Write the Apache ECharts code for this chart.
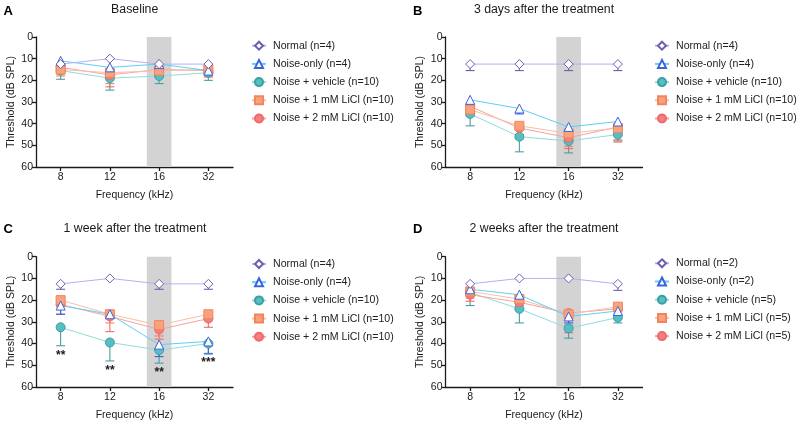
<!DOCTYPE html>
<html><head><meta charset="utf-8">
<script src="https://cdn.jsdelivr.net/npm/echarts@6/dist/echarts.min.js"></script>
<style>html,body{margin:0;padding:0;background:#fff}#c{width:800px;height:425px}</style>
</head><body><div id="c"></div>
<script>
const categories = ['8', '12', '16', '32'];
const shadedFreq = '16';
const groups = ['Normal', 'Noise-only', 'Noise + vehicle', 'Noise + 1 mM LiCl', 'Noise + 2 mM LiCl'];
const nABC = [4, 4, 10, 10, 10];
const nD = [2, 2, 5, 5, 5];
const panelTitles = ['Baseline', '3 days after the treatment', '1 week after the treatment', '2 weeks after the treatment'];
const panelLetters = ['A', 'B', 'C', 'D'];

// Panel A: Baseline (mean, SD)
const A_normal = [12.5, 10, 12.5, 12.5],   A_normal_err = [2, 0, 2, 2];
const A_noise = [11, 14, 12.5, 15.5],      A_noise_err = [2, 2, 2, 2];
const A_vehicle = [15.5, 19, 18, 16.5],    A_vehicle_err = [4, 5.5, 3.5, 3.5];
const A_licl1 = [15, 16.5, 15.5, 15],      A_licl1_err = [3, 5, 3, 3];
const A_licl2 = [14, 17.5, 15, 15.5],      A_licl2_err = [3, 5.5, 3, 3];
// Panel B: 3 days
const B_normal = [12.5, 12.5, 12.5, 12.5], B_normal_err = [3, 3, 3, 3];
const B_noise = [29, 33, 41.5, 39],        B_noise_err = [2, 2.5, 2, 4];
const B_vehicle = [35.5, 46, 48, 45],      B_vehicle_err = [5.5, 7, 5.5, 3];
const B_licl1 = [33.5, 41, 44.5, 42],      B_licl1_err = [3, 4, 6, 6.5];
const B_licl2 = [32, 42, 46.5, 41.5],      B_licl2_err = [3, 5, 5, 6];
// Panel C: 1 week
const C_normal = [12.5, 10, 12.5, 12.5],   C_normal_err = [2.5, 0, 2.5, 2.5];
const C_noise = [22.5, 26.5, 40.5, 39],    C_noise_err = [4, 1, 5.5, 5.8];
const C_vehicle = [32.5, 39.5, 43, 40],    C_vehicle_err = [8.5, 8.5, 6, 4.5];
const C_licl1 = [20, 26.5, 31.5, 26.5],    C_licl1_err = [3, 4, 5, 3];
const C_licl2 = [22, 27.5, 33.5, 28.5],    C_licl2_err = [4.5, 7, 4.5, 4];
const C_sigLabels = ['**', '**', '**', '***'];
const C_sigY = [45.5, 52.5, 53.3, 49];
// Panel D: 2 weeks
const D_normal = [12.5, 10, 10, 12.5],     D_normal_err = [0, 0, 0, 3];
const D_noise = [15, 17.5, 27.5, 25],      D_noise_err = [1.5, 2, 3, 2];
const D_vehicle = [16.5, 24, 33, 28],      D_vehicle_err = [6, 6.5, 4.5, 2.5];
const D_licl1 = [16, 19.5, 26.5, 23],      D_licl1_err = [3, 3, 5, 3];
const D_licl2 = [17.5, 21, 26, 24],        D_licl2_err = [3, 3.5, 9, 3];

const panels = [
  { means: [A_normal, A_noise, A_vehicle, A_licl1, A_licl2], errs: [A_normal_err, A_noise_err, A_vehicle_err, A_licl1_err, A_licl2_err], n: nABC },
  { means: [B_normal, B_noise, B_vehicle, B_licl1, B_licl2], errs: [B_normal_err, B_noise_err, B_vehicle_err, B_licl1_err, B_licl2_err], n: nABC },
  { means: [C_normal, C_noise, C_vehicle, C_licl1, C_licl2], errs: [C_normal_err, C_noise_err, C_vehicle_err, C_licl1_err, C_licl2_err], n: nABC, sig: { labels: C_sigLabels, y: C_sigY } },
  { means: [D_normal, D_noise, D_vehicle, D_licl1, D_licl2], errs: [D_normal_err, D_noise_err, D_vehicle_err, D_licl1_err, D_licl2_err], n: nD }
];

// ---- styling / layout ----
const FONT = "'Liberation Sans', Arial, sans-serif";
const DIAMOND = 'path://M0,-1L1,0L0,1L-1,0Z';
const styles = [
  { symbol: DIAMOND,    size: 9, fill: '#ffffff', border: '#6c5fb0', line: '#b9aef0', err: '#6c5fb0' },
  { symbol: 'triangle', size: 9, fill: '#ffffff', border: '#3a63e0', line: '#5fcff7', err: '#3a63e0' },
  { symbol: 'circle',   size: 9, fill: '#55bfc3', border: '#3d9ea2', line: '#92dcdd', err: '#4a9ea2' },
  { symbol: 'rect',     size: 9, fill: '#f9a27c', border: '#f4845c', line: '#f9c0a6', err: '#f08462' },
  { symbol: 'circle',   size: 9, fill: '#f47f80', border: '#f06868', line: '#f5a3a3', err: '#f06a6a' }
];
const drawOrder = [2, 4, 3, 1, 0];
const grids = [
  { left: 36, top: 37, width: 197, height: 130 },
  { left: 445.5, top: 37, width: 197, height: 130 },
  { left: 36, top: 256.7, width: 197, height: 130.3 },
  { left: 445.5, top: 256.7, width: 197, height: 130.3 }
];
const legendPos = [{ left: 246, top: 33.7 }, { left: 649, top: 33.7 }, { left: 246, top: 252 }, { left: 649, top: 251.3 }];
const titlePos = [{ x: 134.7, y: 9.5 }, { x: 544, y: 9.5 }, { x: 135, y: 228.3 }, { x: 544, y: 228.3 }];
const letterPos = [{ x: 3.5, y: 11 }, { x: 413, y: 11 }, { x: 3.5, y: 229 }, { x: 413, y: 229 }];

const gridOpt = [], xAxes = [], yAxes = [], series = [], legends = [], graphics = [];
const axisLineStyle = { color: '#1a1a1a', width: 1.3 };
const shadeIdx = categories.indexOf(shadedFreq);

panels.forEach((p, pi) => {
  gridOpt.push(Object.assign({ containLabel: false }, grids[pi]));
  const xCat = xAxes.length;
  xAxes.push({
    type: 'category', gridIndex: pi, data: categories, boundaryGap: true,
    name: 'Frequency (kHz)', nameLocation: 'middle', nameGap: 23,
    nameTextStyle: { fontFamily: FONT, fontSize: 10.5, color: '#1a1a1a' },
    axisLine: { show: true, onZero: false, lineStyle: axisLineStyle },
    axisTick: { show: true, alignWithLabel: true, length: 4, lineStyle: axisLineStyle },
    axisLabel: { fontFamily: FONT, fontSize: 10.5, color: '#1a1a1a', margin: 5 },
    splitLine: { show: false }
  });
  const xVal = xAxes.length;
  xAxes.push({ type: 'value', gridIndex: pi, min: -0.5, max: categories.length - 0.5, show: false });
  yAxes.push({
    type: 'value', gridIndex: pi, inverse: true, min: 0, max: 60, interval: 10,
    name: 'Threshold (dB SPL)', nameLocation: 'middle', nameGap: 19.5, nameRotate: 90,
    nameTextStyle: { fontFamily: FONT, fontSize: 10.5, color: '#1a1a1a' },
    axisLine: { show: true, onZero: false, lineStyle: axisLineStyle },
    axisTick: { show: true, length: 4, lineStyle: axisLineStyle },
    axisLabel: { fontFamily: FONT, fontSize: 10.5, color: '#1a1a1a', margin: 3 },
    splitLine: { show: false }
  });

  // shaded band around the exposure frequency
  series.push({
    type: 'line', xAxisIndex: xVal, yAxisIndex: pi, data: [[shadeIdx, 0]], showSymbol: false,
    lineStyle: { width: 0 }, silent: true, z: 0,
    markArea: { silent: true, itemStyle: { color: '#d3d3d3' }, data: [[{ xAxis: shadeIdx - 0.25 }, { xAxis: shadeIdx + 0.25 }]] }
  });

  const names = groups.map((g, gi) => `${g} (n=${p.n[gi]})`);

  // error bars
  drawOrder.forEach(gi => {
    const st = styles[gi];
    series.push({
      type: 'custom', xAxisIndex: xCat, yAxisIndex: pi, z: 1, silent: true,
      data: categories.map((c, i) => [i, p.means[gi][i], p.errs[gi][i]]),
      encode: { x: 0, y: 1 },
      renderItem: (params, api) => {
        const x = api.value(0), y = api.value(1), e = api.value(2);
        if (!e) return null;
        const a = api.coord([x, y]), b = api.coord([x, y + e]);
        const s = { stroke: st.err, lineWidth: 1.1 };
        return { type: 'group', children: [
          { type: 'line', shape: { x1: a[0], y1: a[1], x2: b[0], y2: b[1] }, style: s },
          { type: 'line', shape: { x1: b[0] - 4.5, y1: b[1], x2: b[0] + 4.5, y2: b[1] }, style: s }
        ] };
      }
    });
  });

  // means
  drawOrder.forEach(gi => {
    const st = styles[gi];
    series.push({
      type: 'line', name: names[gi], xAxisIndex: xCat, yAxisIndex: pi, z: 2,
      data: p.means[gi], symbol: st.symbol, symbolSize: st.size, showAllSymbol: true,
      lineStyle: { color: st.line, width: 1 },
      itemStyle: { color: st.fill, borderColor: st.border, borderWidth: 1 },
      emphasis: { disabled: true }, animation: false
    });
  });

  if (p.sig) {
    series.push({
      type: 'custom', xAxisIndex: xCat, yAxisIndex: pi, z: 3, silent: true,
      data: categories.map((c, i) => [i, p.sig.y[i], i]),
      encode: { x: 0, y: 1 },
      renderItem: (params, api) => {
        const pt = api.coord([api.value(0), api.value(1)]);
        return { type: 'text', style: { text: p.sig.labels[api.value(2)], x: pt[0], y: pt[1], align: 'center', verticalAlign: 'middle', fontFamily: FONT, fontSize: 12, fontWeight: 'bold', fill: '#1a1a1a' } };
      }
    });
  }

  legends.push({
    orient: 'vertical', left: legendPos[pi].left, top: legendPos[pi].top,
    data: groups.map((g, gi) => names[gi]),
    itemWidth: 14, itemHeight: 10, itemGap: 4.2, selectedMode: false,
    textStyle: { fontFamily: FONT, fontSize: 10.6, color: '#222', lineHeight: 14, padding: [0, 0, 0, 2] }
  });

  graphics.push({ type: 'text', x: titlePos[pi].x, y: titlePos[pi].y, style: { text: panelTitles[pi], fontFamily: FONT, fontSize: 12.3, fill: '#1a1a1a', align: 'center', verticalAlign: 'middle' } });
  graphics.push({ type: 'text', x: letterPos[pi].x, y: letterPos[pi].y, style: { text: panelLetters[pi], fontFamily: FONT, fontSize: 13, fontWeight: 'bold', fill: '#000', align: 'left', verticalAlign: 'middle' } });
});

const chart = echarts.init(document.getElementById('c'), null, { renderer: 'canvas' });
chart.setOption({
  backgroundColor: '#ffffff', animation: false,
  grid: gridOpt, xAxis: xAxes, yAxis: yAxes, series: series, legend: legends, graphic: graphics
});
</script></body></html>
